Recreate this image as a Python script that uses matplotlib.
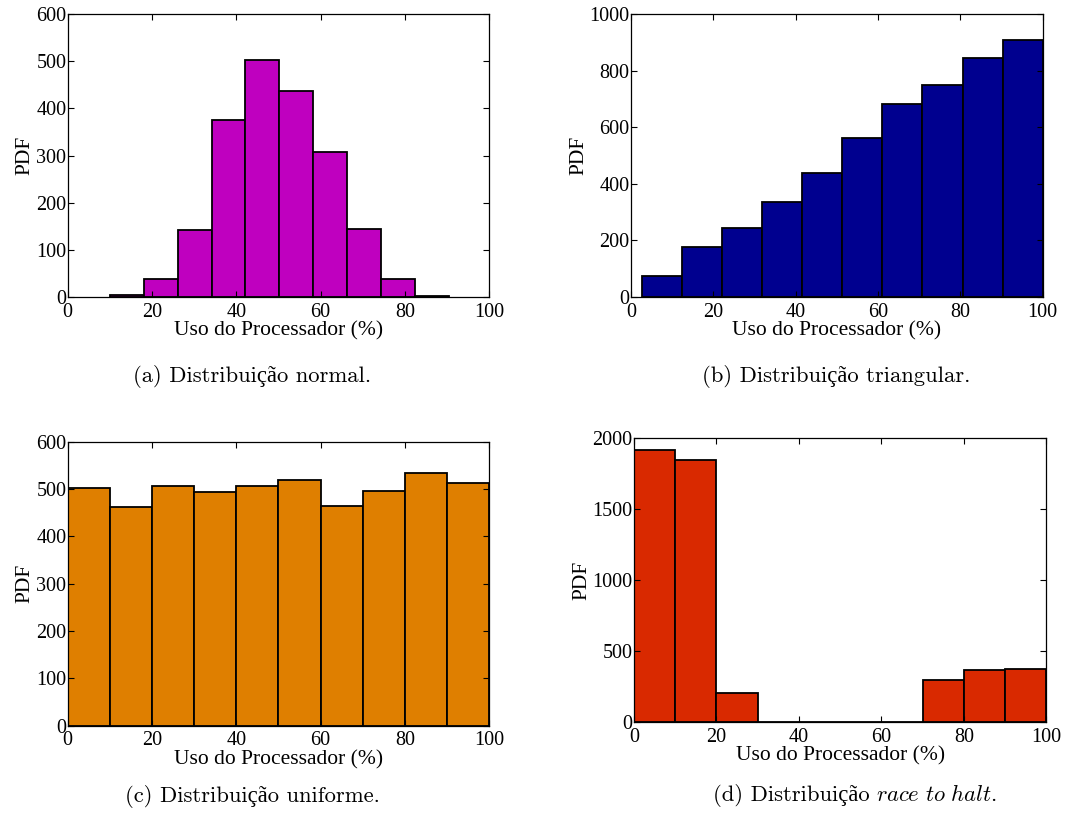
import numpy as np
import matplotlib
matplotlib.use("Agg")
import matplotlib.pyplot as plt

plt.rcParams["mathtext.fontset"] = "cm"

# ---- data ----
normal_edges = [10.0, 18.04, 26.08, 34.12, 42.16, 50.2, 58.24, 66.28, 74.32, 82.36, 90.4]
normal_counts = [5, 39, 143, 375, 502, 437, 308, 145, 39, 3]

tri_edges = [2.6, 12.34, 22.08, 31.82, 41.56, 51.3, 61.04, 70.78, 80.52, 90.26, 100.0]
tri_counts = [74, 177, 243, 335, 438, 561, 683, 748, 843, 907]

uni_edges = [0, 10, 20, 30, 40, 50, 60, 70, 80, 90, 100]
uni_counts = [503, 463, 506, 493, 506, 519, 465, 495, 534, 513]

rth_edges = [0, 10, 20, 30, 40, 50, 60, 70, 80, 90, 100]
rth_counts = [1918, 1850, 207, 0, 0, 0, 0, 296, 364, 371]

xticks = [0, 20, 40, 60, 80, 100]
xlabel = "Uso do Processador (%)"
ylabel = "PDF"
captions = ["(a) Distribuição normal.", "(b) Distribuição triangular.",
            "(c) Distribuição uniforme.", "(d) Distribuição"]
italic_part = r"$\mathit{race\ to\ halt}$."

colors = ["#bf00bf", "#00008f", "#df7f00", "#d92900"]

panels = [
    (normal_edges, normal_counts, [0, 100, 200, 300, 400, 500, 600], (0, 600)),
    (tri_edges, tri_counts, [0, 200, 400, 600, 800, 1000], (0, 1000)),
    (uni_edges, uni_counts, [0, 100, 200, 300, 400, 500, 600], (0, 600)),
    (rth_edges, rth_counts, [0, 500, 1000, 1500, 2000], (0, 2000)),
]

positions = [
    [0.063, 0.639, 0.392, 0.344],
    [0.587, 0.639, 0.383, 0.344],
    [0.063, 0.1182, 0.392, 0.345],
    [0.5898, 0.1227, 0.3835, 0.3447],
]

fig = plt.figure(figsize=(10.75, 8.23), dpi=100)
serif = ["Liberation Serif", "DejaVu Serif"]
cap_font = ["cmr10", "Liberation Serif"]
cap_size = 16.3

for i, ((edges, counts, yt, ylim), pos) in enumerate(zip(panels, positions)):
    ax = fig.add_axes(pos)
    edges = np.asarray(edges, dtype=float)
    widths = np.diff(edges)
    ax.bar(edges[:-1], counts, width=widths, align="edge", color=colors[i],
           edgecolor="black", linewidth=1.3)
    ax.set_xlim(0, 100)
    ax.set_ylim(*ylim)
    ax.set_xticks(xticks)
    ax.set_yticks(yt)
    ax.tick_params(direction="in", length=4, width=0.8, top=True, right=True,
                   labelsize=14.5)
    ax.tick_params(axis="x", pad=4)
    ax.tick_params(axis="y", pad=1)
    for lab in ax.get_xticklabels() + ax.get_yticklabels():
        lab.set_family(serif)
    for sp in ax.spines.values():
        sp.set_linewidth(0.9)
    ax.set_xlabel(xlabel, fontsize=15.5, family=serif, labelpad=0)
    ax.set_ylabel(ylabel, fontsize=15.5, family=serif, labelpad=1)

cap_x = [0.2345, 0.778, 0.2345, 0.7955]
cap_y = [1 - 377 / 823, 1 - 377 / 823, 1 - 796 / 823, 1 - 796 / 823]

for i in range(3):
    fig.text(cap_x[i], cap_y[i], captions[i], ha="center", va="center",
             fontsize=cap_size, family=cap_font)

# caption (d): regular part + italic part, positioned via renderer measurement
renderer = fig.canvas.get_renderer()
base_y = cap_y[3] - 5 / 823
t1 = fig.text(0, base_y, captions[3], ha="left", va="baseline", fontsize=cap_size, family=cap_font)
t2 = fig.text(0, base_y, italic_part, ha="left", va="baseline", fontsize=cap_size, family=cap_font)
W = fig.bbox.width
w1 = t1.get_window_extent(renderer).width / W
w2 = t2.get_window_extent(renderer).width / W
gap = 7 / W
total = w1 + gap + w2
x0 = cap_x[3] - total / 2
t1.set_x(x0)
t2.set_x(x0 + w1 + gap)

fig.savefig("out.png", dpi=100)
